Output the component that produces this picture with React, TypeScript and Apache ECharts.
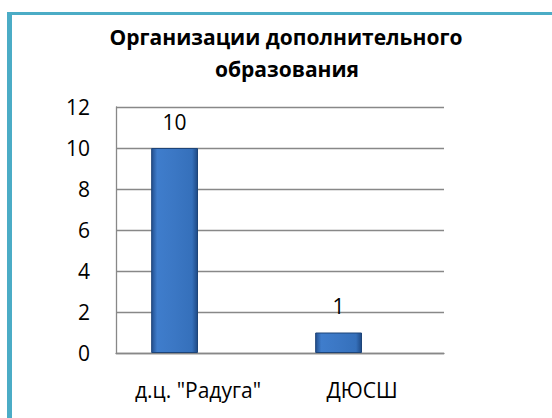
import React, { useEffect, useRef } from "react";
import * as echarts from "echarts";

const titleLines = ["Организации дополнительного", "образования"];
const categories = ["д.ц. \"Радуга\"", "ДЮСШ"];
const values = [10, 1];
const emptySeries = ["-", "-"];
const yMin = 0;
const yMax = 12;
const yInterval = 2;

export default function App() {
  const ref = useRef<HTMLDivElement>(null);
  useEffect(() => {
    if (!ref.current) return;
    const chart = echarts.init(ref.current, null, { renderer: "svg" });
    const font = "'Open Sans', 'Noto Sans', sans-serif";
    const barGradient = new echarts.graphic.LinearGradient(0, 0, 1, 0, [
      { offset: 0, color: "#23508f" },
      { offset: 0.12, color: "#3f7dcc" },
      { offset: 0.5, color: "#3b77c4" },
      { offset: 0.88, color: "#3570bb" },
      { offset: 1, color: "#1f4a85" },
    ]);
    chart.setOption({
      animation: false,
      backgroundColor: "#ffffff",
      grid: { left: 116, right: 108, top: 107, bottom: 65, containLabel: false },
      graphic: [
        { type: "rect", shape: { x: 7, y: 12, width: 5, height: 420 }, style: { fill: "#4bacc6" } },
        { type: "rect", shape: { x: 7, y: 12, width: 560, height: 3 }, style: { fill: "#4bacc6" } },
        {
          type: "text",
          x: 286,
          y: 37,
          style: {
            text: titleLines[0],
            textAlign: "center",
            textVerticalAlign: "middle",
            font: `bold 21px ${font}`,
            fill: "#000",
          },
        },
        {
          type: "text",
          x: 287,
          y: 69,
          style: {
            text: titleLines[1],
            textAlign: "center",
            textVerticalAlign: "middle",
            font: `bold 21px ${font}`,
            fill: "#000",
          },
        },
      ],
      xAxis: {
        type: "category",
        data: categories,
        axisLine: { show: true, lineStyle: { color: "#888888", width: 1.3 } },
        axisTick: { show: false },
        axisLabel: { color: "#000", fontSize: 21, fontFamily: font, margin: 26 },
      },
      yAxis: {
        type: "value",
        min: yMin,
        max: yMax,
        interval: yInterval,
        axisLine: { show: true, lineStyle: { color: "#888888", width: 1.3 } },
        axisTick: { show: false },
        splitLine: { show: true, lineStyle: { color: "#888888", width: 1.3 } },
        axisLabel: { color: "#000", fontSize: 21, fontFamily: font, margin: 26 },
      },
      series: [
        {
          type: "bar",
          data: values,
          barGap: "0%",
          barCategoryGap: "42.9%",
          itemStyle: { color: barGradient, borderColor: "#1d4478", borderWidth: 1 },
          label: {
            show: true,
            position: "top",
            distance: 16,
            color: "#000",
            fontSize: 21,
            fontFamily: font,
          },
        },
        {
          type: "bar",
          data: emptySeries,
          barGap: "0%",
          barCategoryGap: "42.9%",
        },
      ],
    });
    return () => chart.dispose();
  }, []);
  return (
    <div
      ref={ref}
      style={{ position: "fixed", left: 0, top: 0, width: 552, height: 418 }}
    />
  );
}
